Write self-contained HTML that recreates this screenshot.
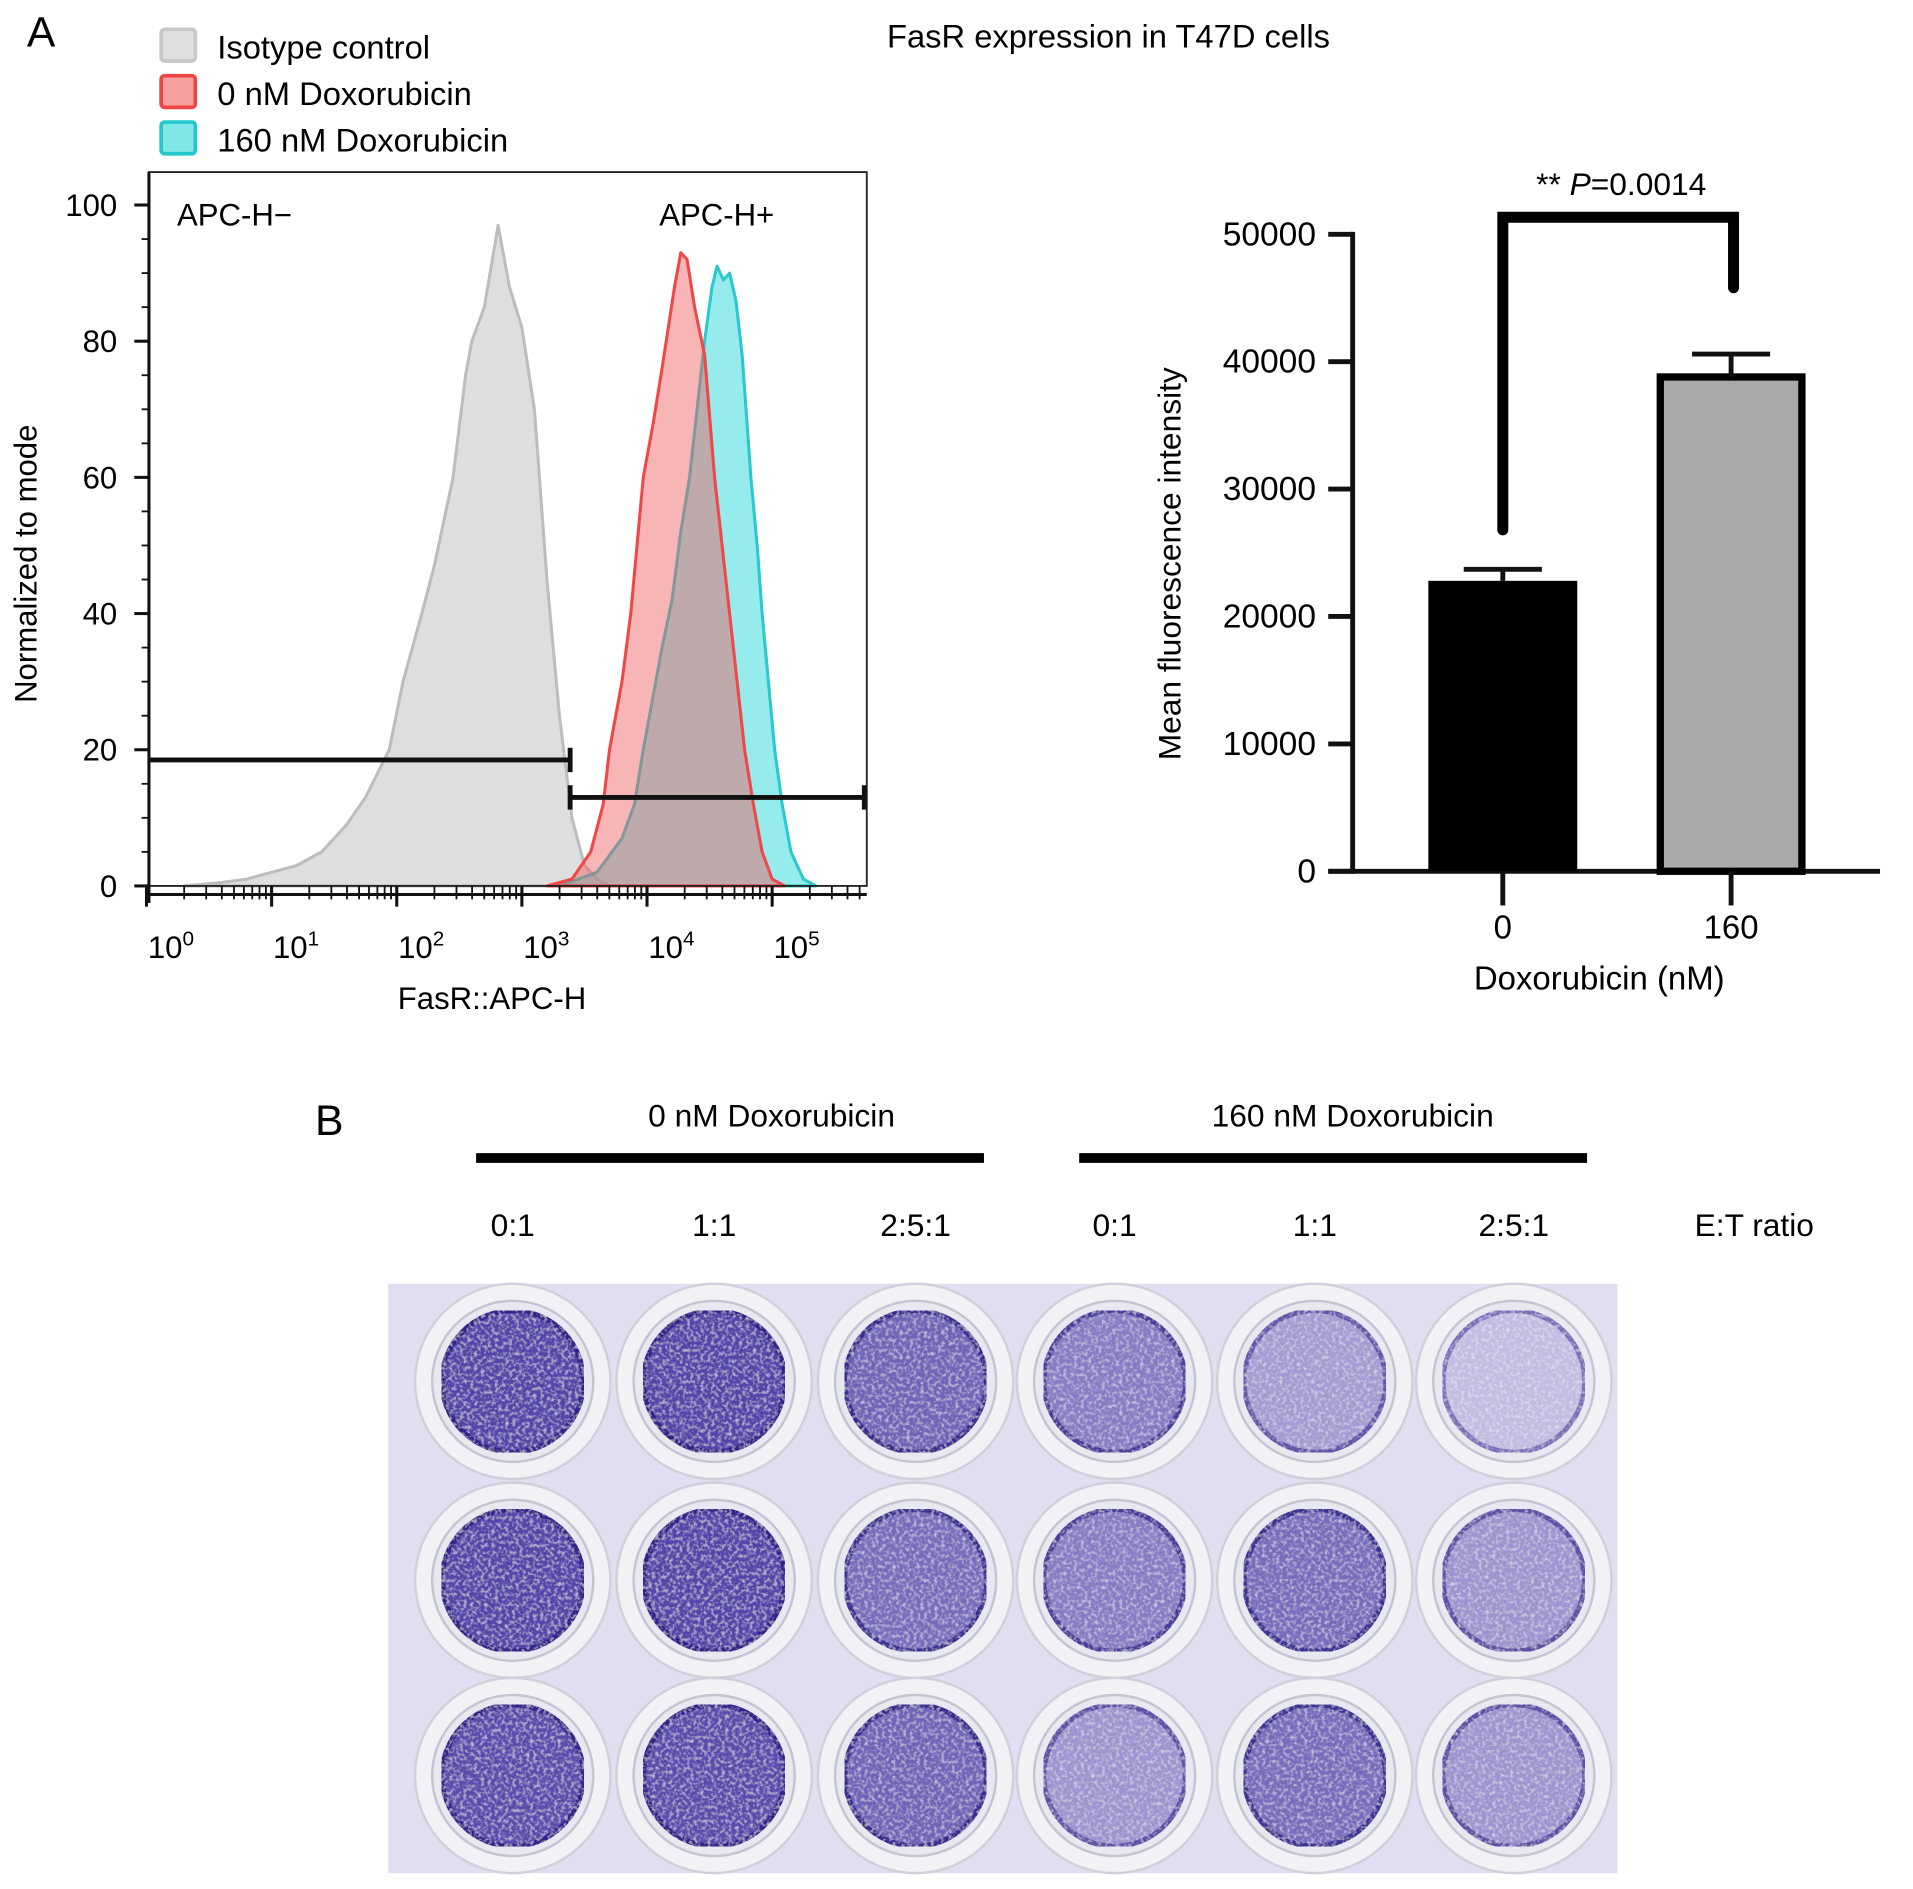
<!DOCTYPE html>
<html><head><meta charset="utf-8"><style>
html,body{margin:0;padding:0;background:#fff}
svg{display:block;font-family:"Liberation Sans",Arial,sans-serif}
</style></head><body>
<svg id="fig" width="1913" height="1889" viewBox="0 0 1567 1548" preserveAspectRatio="none" xmlns="http://www.w3.org/2000/svg">
<defs>
<filter id="grain" x="0" y="0" width="1" height="1">
<feTurbulence type="fractalNoise" baseFrequency="0.35" numOctaves="2" seed="3" result="n"/>
<feColorMatrix in="n" type="matrix" values="0 0 0 0 1  0 0 0 0 1  0 0 0 0 1  0 0 0 1.2 -0.55" result="w"/>
<feComposite in="w" in2="SourceGraphic" operator="in" result="wc"/>
<feMerge><feMergeNode in="SourceGraphic"/><feMergeNode in="wc"/></feMerge>
</filter>
</defs>
<g id="panelA"></g>
<g id="bars"></g>
<g id="panelB"></g>
</svg>
<script>
// ---- Histogram data (log10 fluorescence, % of mode) ----
const grayX=[0.3,0.6,0.8,1.0,1.2,1.4,1.6,1.75,1.94,2.05,2.2,2.3,2.45,2.55,2.6,2.7,2.81,2.9,3.0,3.1,3.2,3.3,3.4,3.5,3.6,3.7];
const grayY=[0,0.5,1,2,3,5,9,13,20,30,40,47,60,75,80,85,97,88,82,70,45,25,10,3,1,0];
const redX=[3.2,3.4,3.55,3.65,3.7,3.8,3.87,3.93,3.97,4.05,4.12,4.17,4.22,4.27,4.32,4.38,4.46,4.54,4.6,4.66,4.72,4.78,4.85,4.92,5.0,5.1];
const redY=[0,1,5,12,20,30,40,52,60,68,76,82,88,93,92,85,78,60,50,40,30,20,12,5,1,0];
const cyanX=[3.3,3.6,3.8,3.9,3.97,4.05,4.12,4.2,4.27,4.34,4.4,4.46,4.52,4.56,4.61,4.66,4.71,4.76,4.83,4.88,4.92,4.97,5.02,5.08,5.15,5.25,5.35];
const cyanY=[0,2,7,12,20,28,35,42,52,60,70,80,88,91,89,90,86,78,60,50,40,30,20,12,5,1,0];
const histYTicks=[0,20,40,60,80,100];
const histXDecades=[0,1,2,3,4,5];
// ---- Bar chart data ----
const barCats=["0","160"];
const barVals=[22800,38800];
const barErr=[900,1800];
const barYTicks=[0,10000,20000,30000,40000,50000];
const pText="P=0.0014";
// ---- Plate data (stain intensity 0..1 per well) ----
const wellRows=[[0.95,0.95,0.75,0.6,0.4,0.2],[0.95,0.95,0.7,0.6,0.7,0.45],[0.9,0.9,0.75,0.45,0.7,0.45]];
const ratioLabels=["0:1","1:1","2:5:1","0:1","1:1","2:5:1"];

const NS="http://www.w3.org/2000/svg";
function mk(tag,attrs,parent,text){const e=document.createElementNS(NS,tag);for(const k in attrs)e.setAttribute(k,attrs[k]);if(text!==undefined)e.textContent=text;parent.appendChild(e);return e;}

// ===== Panel A histogram =====
const A=document.getElementById('panelA');
const hx=l=>120+102.5*l, hy=v=>726-5.58*v;
let t=mk('text',{x:22,y:38,'font-size':35},A,'A');

const leg=[["Isotype control","#e0e0e0","#c8c8c8"],["0 nM Doxorubicin","#f7a0a0","#ee4444"],["160 nM Doxorubicin","#80e6e6","#22c8cc"]];
leg.forEach((l,i)=>{const g=mk('g',{},A);

mk('rect',{x:132,y:24+i*38,width:28,height:26,fill:l[1],stroke:l[2],'stroke-width':3,rx:3},g);
mk('text',{x:178,y:48+i*38,'font-size':26.8},g,l[0]);});
t=mk('text',{x:908,y:39,'font-size':26.8,'text-anchor':'middle'},A,'FasR expression in T47D cells');

function area(xs,ys,fill,stroke,name){let d='M'+hx(xs[0])+','+hy(0);xs.forEach((x,i)=>d+=' L'+hx(x)+','+hy(ys[i]));d+=' L'+hx(xs[xs.length-1])+','+hy(0)+'Z';
const p=mk('path',{d:d,fill:fill,stroke:stroke,'stroke-width':2.5,'stroke-linejoin':'round'},A);
}
area(grayX,grayY,'#dedede','#bdbdbd','isotype-histogram');
area(cyanX,cyanY,'rgba(80,222,224,0.6)','#2cc8cc','dox160-histogram');
area(redX,redY,'rgba(240,90,90,0.45)','#f04848','dox0-histogram');
const box=mk('rect',{x:122,y:141,width:588,height:585,fill:'none',stroke:'#222','stroke-width':1.5},A);

histYTicks.forEach(v=>{mk('line',{x1:110,x2:122,y1:hy(v),y2:hy(v),stroke:'#111','stroke-width':2.5},A);
const tl=mk('text',{x:96,y:hy(v)+9,'font-size':25.5,'text-anchor':'end'},A,String(v));
});
for(let v=5;v<100;v+=5){if(v%20)mk('line',{x1:116,x2:122,y1:hy(v),y2:hy(v),stroke:'#111','stroke-width':1.5},A);}
mk('line',{x1:122,x2:122,y1:141,y2:740,stroke:'#111','stroke-width':2.5},A);
mk('line',{x1:122,x2:710,y1:733,y2:733,stroke:'#111','stroke-width':2.5},A);
histXDecades.forEach(d=>{mk('line',{x1:hx(d),x2:hx(d),y1:726,y2:743,stroke:'#111','stroke-width':2.5},A);
for(let m=2;m<10;m++){const x=hx(d+Math.log10(m));if(x<708)mk('line',{x1:x,x2:x,y1:726,y2:737,stroke:'#111','stroke-width':1.5},A);}
const tl=mk('text',{x:hx(d)+20,y:785,'font-size':25.5,'text-anchor':'middle'},A);

mk('tspan',{},tl,'10');mk('tspan',{dy:-10,'font-size':17},tl,String(d));});
t=mk('text',{x:403,y:827,'font-size':25.5,'text-anchor':'middle'},A,'FasR::APC-H');

t=mk('text',{x:0,y:0,'font-size':25.5,'text-anchor':'middle',transform:'translate(30,462) rotate(-90)'},A,'Normalized to mode');

t=mk('text',{x:145,y:185,'font-size':25.5},A,'APC-H−');
t=mk('text',{x:540,y:185,'font-size':25.5},A,'APC-H+');
let g1=mk('g',{stroke:'#111','stroke-width':4},A);
mk('line',{x1:122,x2:467,y1:hy(18.5),y2:hy(18.5)},g1);mk('line',{x1:467,x2:467,y1:hy(18.5)-10,y2:hy(18.5)+10},g1);
let g2=mk('g',{stroke:'#111','stroke-width':4},A);
mk('line',{x1:467,x2:708,y1:hy(13),y2:hy(13)},g2);mk('line',{x1:467,x2:467,y1:hy(13)-10,y2:hy(13)+10},g2);mk('line',{x1:708,x2:708,y1:hy(13)-10,y2:hy(13)+10},g2);

// ===== Bar chart =====
const B=document.getElementById('bars');
const by=v=>714-v*0.01044;
const bxC=[1231,1418], bw=[122,116];
mk('line',{x1:1108,x2:1108,y1:190,y2:716,stroke:'#111','stroke-width':4},B);
mk('line',{x1:1088,x2:1540,y1:714,y2:714,stroke:'#111','stroke-width':4},B);
barYTicks.forEach(v=>{mk('line',{x1:1088,x2:1108,y1:by(v),y2:by(v),stroke:'#111','stroke-width':4},B);
const tl=mk('text',{x:1078,y:by(v)+9,'font-size':27.5,'text-anchor':'end'},B,String(v));
});
barCats.forEach((c,i)=>{
const r=mk('rect',{x:bxC[i]-bw[i]/2,y:by(barVals[i]),width:bw[i],height:714-by(barVals[i]),fill:i?'#aaaaaa':'#000',stroke:'#000','stroke-width':i?6:0},B);

const e=mk('g',{stroke:'#111','stroke-width':4},B);
mk('line',{x1:bxC[i],x2:bxC[i],y1:by(barVals[i]),y2:by(barVals[i]+barErr[i])},e);
mk('line',{x1:bxC[i]-32,x2:bxC[i]+32,y1:by(barVals[i]+barErr[i]),y2:by(barVals[i]+barErr[i])},e);
mk('line',{x1:bxC[i],x2:bxC[i],y1:714,y2:742,stroke:'#111','stroke-width':4},B);
const tl=mk('text',{x:bxC[i],y:769,'font-size':27,'text-anchor':'middle'},B,c);
});
const br=mk('path',{d:`M1231,${by(26800)} L1231,178 L1420,178 L1420,${by(45800)}`,fill:'none',stroke:'#000','stroke-width':9,'stroke-linecap':'round'},B);

t=mk('text',{x:1328,y:160,'font-size':26,'text-anchor':'middle'},B);
mk('tspan',{},t,'** ');mk('tspan',{'font-style':'italic'},t,'P');mk('tspan',{},t,pText.slice(1));
t=mk('text',{x:1310,y:811,'font-size':27,'text-anchor':'middle'},B,'Doxorubicin (nM)');
t=mk('text',{x:0,y:0,'font-size':26,'text-anchor':'middle',transform:'translate(967,462) rotate(-90)'},B,'Mean fluorescence intensity');


// ===== Panel B =====
const P=document.getElementById('panelB');
t=mk('text',{x:258,y:930,'font-size':35},P,'B');
[["0 nM Doxorubicin",632,390,806],["160 nM Doxorubicin",1108,884,1300]].forEach(h=>{
const tl=mk('text',{x:h[1],y:923,'font-size':26,'text-anchor':'middle'},P,h[0]);
mk('line',{x1:h[2],x2:h[3],y1:949,y2:949,stroke:'#000','stroke-width':8},P);});
const wx=[420,585,750,913,1077,1240], wy=[1132,1295,1455];
ratioLabels.forEach((r,i)=>{const tl=mk('text',{x:wx[i],y:1013,'font-size':26,'text-anchor':'middle'},P,r);});
t=mk('text',{x:1437,y:1013,'font-size':26,'text-anchor':'middle'},P,'E:T ratio');
const plate=mk('rect',{x:318,y:1052,width:1007,height:483,fill:'#e0def0'},P);
function mix(a,b,f){return 'rgb('+a.map((v,i)=>Math.round(v+(b[i]-v)*f)).join(',')+')';}
wellRows.forEach((row,ri)=>row.forEach((s,ci)=>{const g=mk('g',{},P);

const cx=wx[ci],cy=wy[ri];
mk('circle',{cx:cx,cy:cy,r:80,fill:'#f2f2f6',stroke:'#d0d0dc','stroke-width':2},g);
mk('circle',{cx:cx,cy:cy,r:66,fill:'#e8e8f0',stroke:'#c4c4d2','stroke-width':2},g);
mk('circle',{cx:cx,cy:cy,r:58,fill:mix([222,220,240],[75,60,165],s),stroke:mix([170,160,215],[50,35,140],Math.min(1,s+0.2)),'stroke-width':4,filter:'url(#grain)'},g);
}));
</script>
</body></html>
